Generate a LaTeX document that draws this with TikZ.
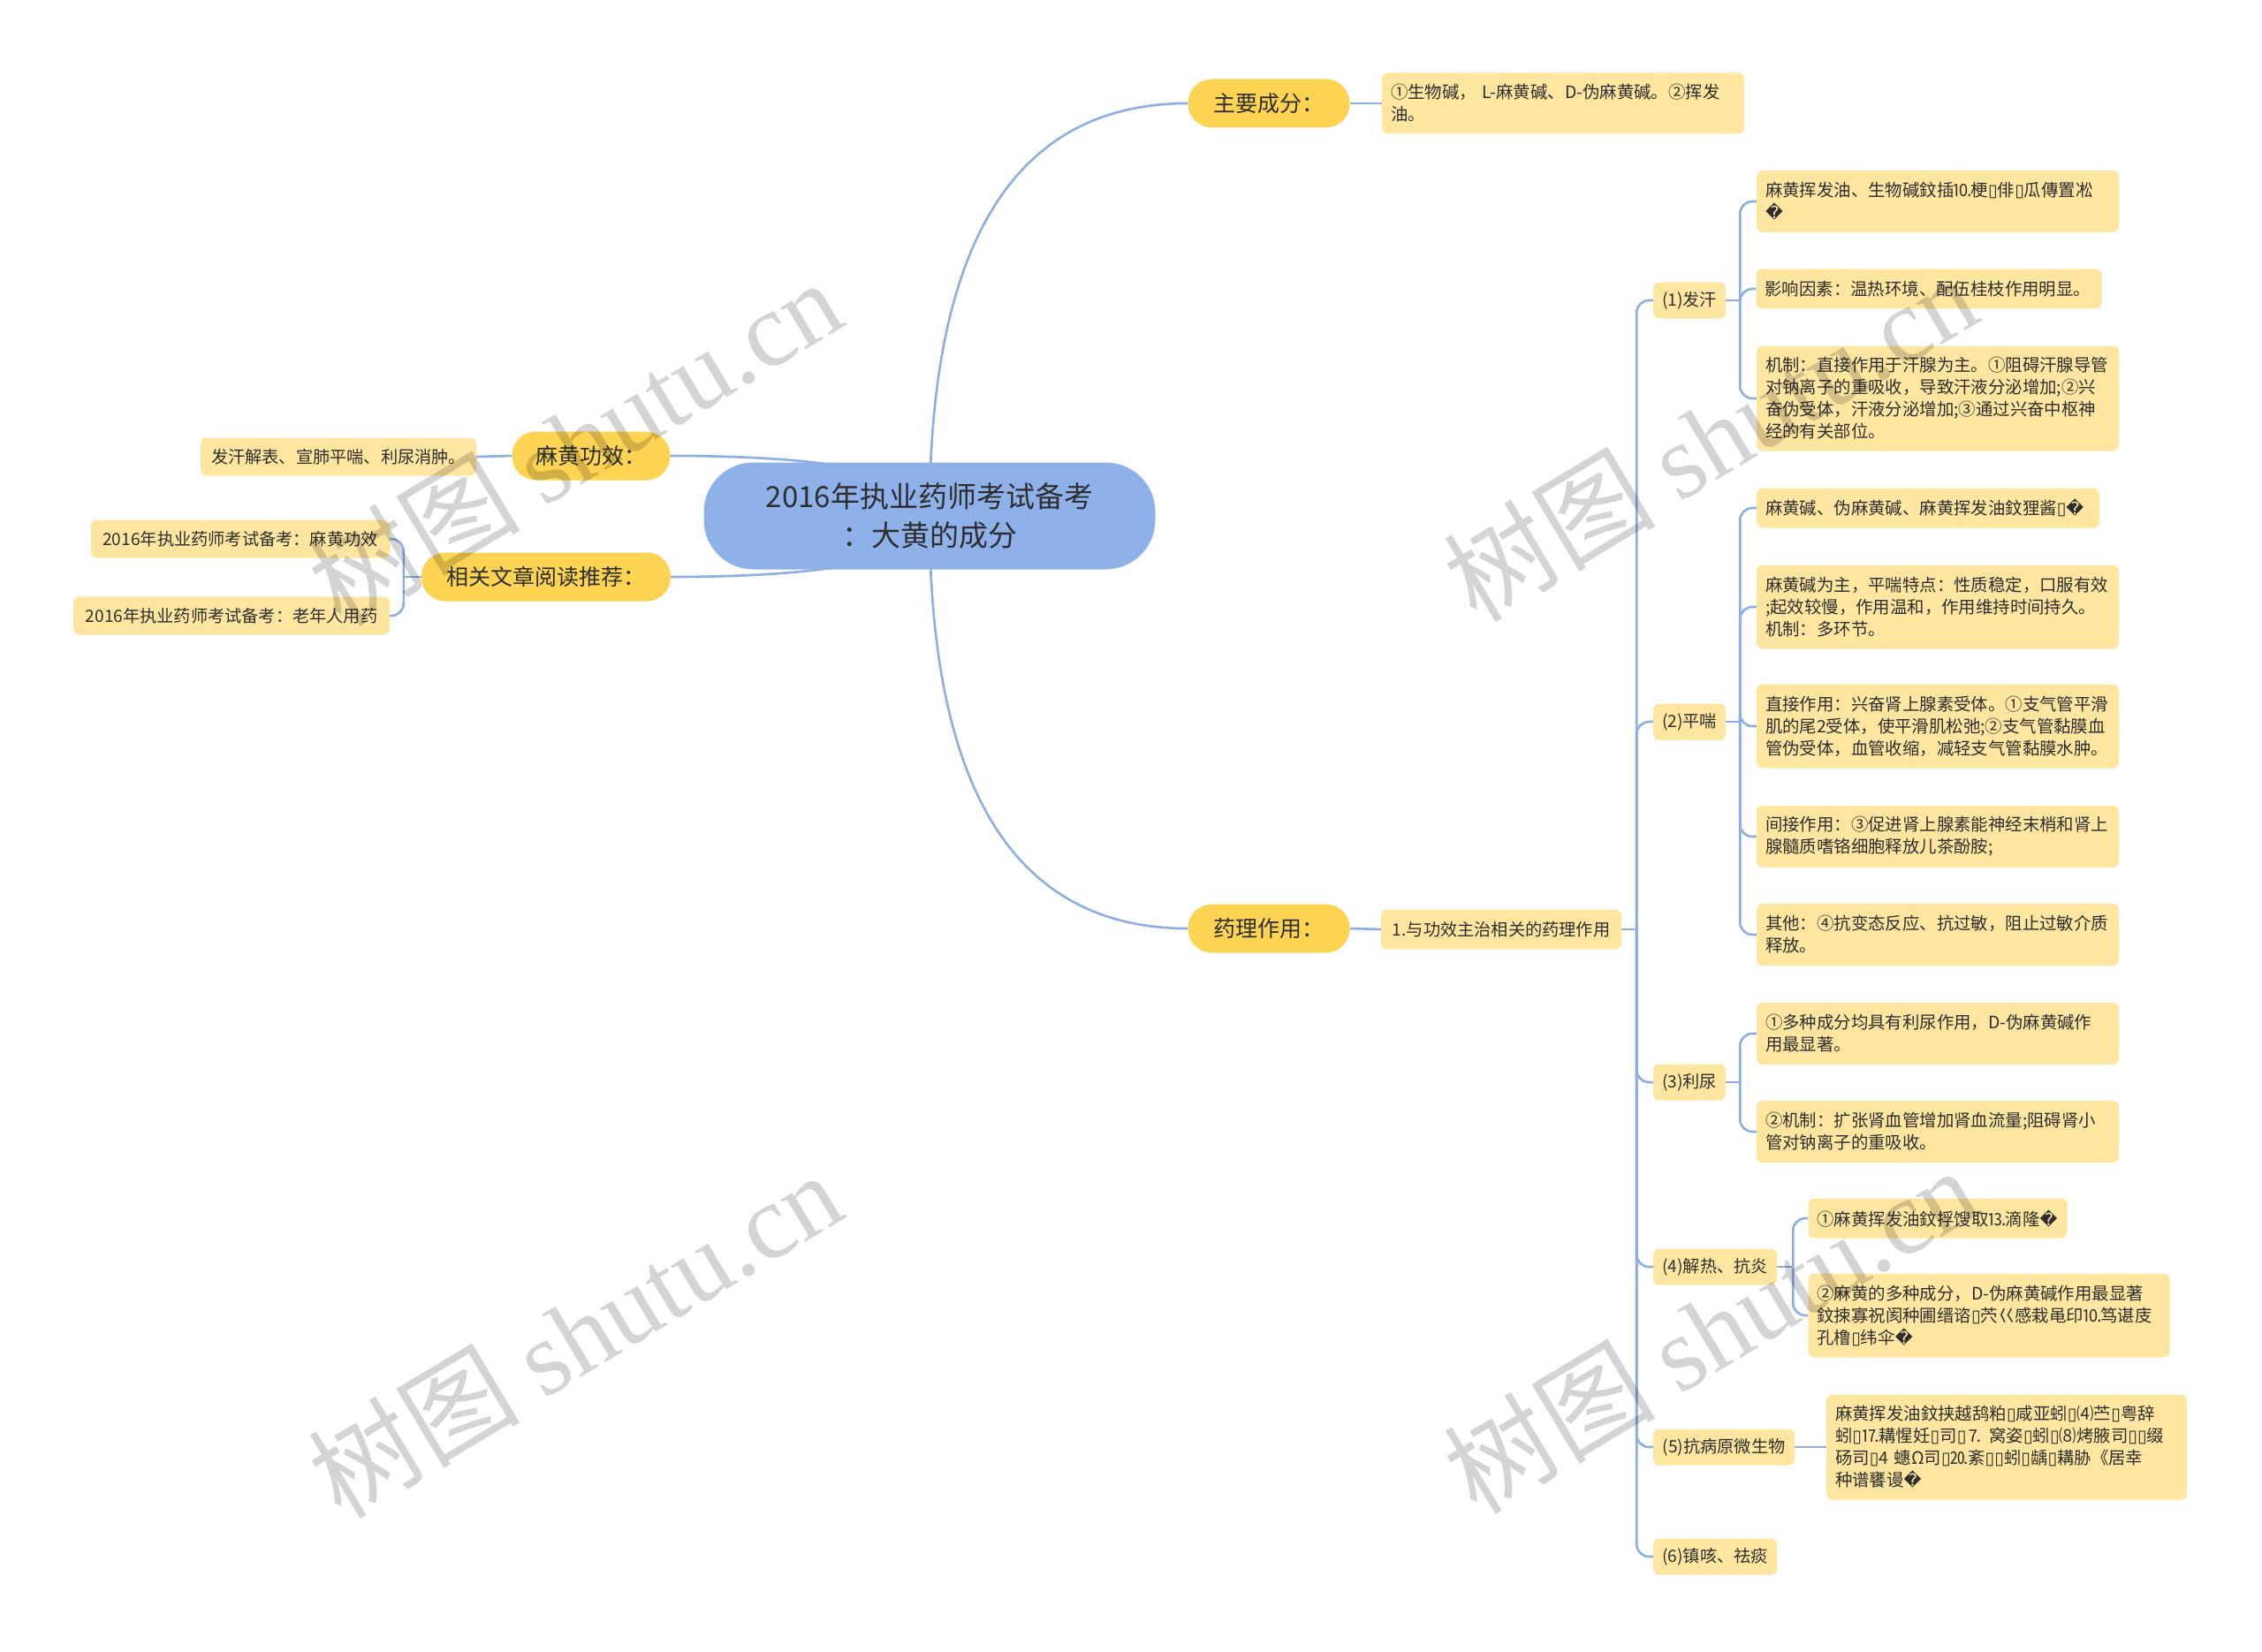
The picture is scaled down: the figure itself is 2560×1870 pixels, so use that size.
\documentclass[tikz,border=0pt]{standalone}
\usepackage{fontspec}
\setmainfont{Noto Sans CJK SC}
\newfontfamily\symfont{DejaVu Sans}
\newfontfamily\wmserif{Liberation Serif}
\newcommand\rpc{{\symfont\char"FFFD}}
\newcommand\bxc{{\symfont\char"25AF}}
\usetikzlibrary{calc,backgrounds}
\definecolor{cblue}{HTML}{8FB1EA}
\definecolor{lineblue}{HTML}{8DAEE3}
\definecolor{tgold}{HTML}{FDD352}
\definecolor{lyellow}{HTML}{FEE6A0}
\definecolor{txt}{HTML}{2E2E2E}
\tikzset{
  conn/.style={draw=lineblue, line width=2.6pt},
  brconn/.style={conn, rounded corners=14pt},
  centernode/.style={fill=cblue, rounded corners=56pt, minimum width=511pt, minimum height=121pt,
    align=center, text=txt, font=\fontsize{33}{44}\selectfont, inner sep=0pt},
  topic/.style={fill=tgold, rounded corners=27pt, minimum height=55pt, inner sep=0pt,
    text=txt, font=\fontsize{25}{30}\selectfont},
  leafbox/.style={fill=lyellow, rounded corners=7pt, text=txt, font=\fontsize{19.4}{25}\selectfont,
    inner xsep=10pt, inner ysep=0pt, align=left},
  subbox/.style={fill=lyellow, rounded corners=7pt, text=txt, font=\fontsize{19.2}{25}\selectfont,
    inner sep=0pt, minimum height=41pt, align=center},
  wm/.style={text=black, text opacity=0.17, rotate=31, inner sep=0pt,
    font=\fontsize{120}{120}\selectfont},
}
\begin{document}
\begin{tikzpicture}[x=1pt,y=-1pt]
\useasboundingbox (0,0) rectangle (2560,1870);

% central topic
\node[centernode] (c) at (1052,584) {2016年执业药师考试备考\\：大黄的成分};

% main topics
\node[topic, minimum width=183pt] (L1a) at (1436,117) {主要成分：};
\node[topic, minimum width=183pt] (L1b) at (1436,1051) {药理作用：};
\node[topic, minimum width=179pt] (L1c) at (669,516) {麻黄功效：};
\node[topic, minimum width=282pt] (L1d) at (618,653) {相关文章阅读推荐：};

% left leaves
\node[subbox, minimum width=312pt, minimum height=43pt] (LfA) at (383,517) {发汗解表、宣肺平喘、利尿消肿。};
\node[subbox, minimum width=338pt, minimum height=43pt] (LfB) at (272,610) {2016年执业药师考试备考：麻黄功效};
\node[subbox, minimum width=358pt, minimum height=43pt] (LfC) at (262,697) {2016年执业药师考试备考：老年人用药};

% components
\node[leafbox, text width=390pt, minimum height=69pt] (compA) at (1769,117) {①生物碱， L-麻黄碱、D-伪麻黄碱。②挥发\\油。};

% pharmacology
\node[subbox, minimum width=272pt, minimum height=45pt] (mid) at (1699,1052) {1.与功效主治相关的药理作用};

\node[subbox, minimum width=82pt] (m1) at (1912,340) {(1)发汗};
\node[subbox, minimum width=82pt] (m2) at (1912,817) {(2)平喘};
\node[subbox, minimum width=82pt] (m3) at (1912,1225) {(3)利尿};
\node[subbox, minimum width=140pt] (m4) at (1941,1434) {(4)解热、抗炎};
\node[subbox, minimum width=160pt] (m5) at (1951,1638) {(5)抗病原微生物};
\node[subbox, minimum width=140pt] (m6) at (1941,1762) {(6)镇咳、祛痰};

\node[leafbox, text width=390pt, minimum height=70pt] (s1a) at (2193,228) {麻黄挥发油、生物碱鈫插⒑梗\bxc{}俳\bxc{}瓜傳置凇\\\rpc};
\node[leafbox, text width=371pt, minimum height=45pt] (s1b) at (2183,327) {影响因素：温热环境、配伍桂枝作用明显。};
\node[leafbox, text width=390pt, minimum height=119pt] (s1c) at (2193,451) {机制：直接作用于汗腺为主。①阻碍汗腺导管\\对钠离子的重吸收，导致汗液分泌增加;②兴\\奋伪受体，汗液分泌增加;③通过兴奋中枢神\\经的有关部位。};

\node[leafbox, text width=368pt, minimum height=45pt] (s2a) at (2182,575) {麻黄碱、伪麻黄碱、麻黄挥发油鈫狸酱\bxc{}\rpc};
\node[leafbox, text width=390pt, minimum height=95pt] (s2b) at (2193,687) {麻黄碱为主，平喘特点：性质稳定，口服有效\\;起效较慢，作用温和，作用维持时间持久。\\机制：多环节。};
\node[leafbox, text width=390pt, minimum height=95pt] (s2c) at (2193,822) {直接作用：兴奋肾上腺素受体。①支气管平滑\\肌的尾2受体，使平滑肌松弛;②支气管黏膜血\\管伪受体，血管收缩，减轻支气管黏膜水肿。};
\node[leafbox, text width=390pt, minimum height=70pt] (s2d) at (2193,947) {间接作用：③促进肾上腺素能神经末梢和肾上\\腺髓质嗜铬细胞释放儿茶酚胺;};
\node[leafbox, text width=390pt, minimum height=70pt] (s2e) at (2193,1058) {其他：④抗变态反应、抗过敏，阻止过敏介质\\释放。};

\node[leafbox, text width=390pt, minimum height=70pt] (s3a) at (2193,1170) {①多种成分均具有利尿作用，D-伪麻黄碱作\\用最显著。};
\node[leafbox, text width=390pt, minimum height=70pt] (s3b) at (2193,1281) {②机制：扩张肾血管增加肾血流量;阻碍肾小\\管对钠离子的重吸收。};

\node[leafbox, text width=273pt, minimum height=45pt] (s4a) at (2193,1379) {①麻黄挥发油鈫捊馊取⒔滴隆\rpc};
\node[leafbox, text width=389pt, minimum height=95pt] (s4b) at (2251,1489) {②麻黄的多种成分，D-伪麻黄碱作用最显著\\鈫捒寡祝阂种圃缙谘\bxc{}茓巜感栽黾印⒑笃谌庋\\孔橹\bxc{}纬伞\rpc};

\node[leafbox, text width=388pt, minimum height=119pt] (s5a) at (2271,1638) {麻黄挥发油鈫挟越鸹粕\bxc{}咸亚蚓\bxc{}⑷苎\bxc{}粤辞\\蚓\bxc{}⒘耩惺妊\bxc{}司\bxc{}⒎ 窝姿\bxc{}蚓\bxc{}⑻烤腋司\bxc{}\bxc{}缀\\砀司\bxc{}4 蟪Ω司\bxc{}⒛紊\bxc{}\bxc{}蚓\bxc{}龋\bxc{}耩胁《居幸\\种谱饔谩\rpc};

% connectors
\begin{scope}[on background layer]
  \fill[white] (0,0) rectangle (2560,1870);
  \coordinate (kA) at (c.center |- L1a.west);
  \coordinate (kB) at (c.center |- L1b.west);
  \coordinate (kC) at (c.center |- L1c.east);
  \coordinate (kD) at (c.center |- L1d.east);
  \draw[conn] (c.center) .. controls ($(c.center)!2/3!(kA)$) and ($(L1a.west)!2/3!(kA)$) .. (L1a.west);
  \draw[conn] (c.center) .. controls ($(c.center)!2/3!(kB)$) and ($(L1b.west)!2/3!(kB)$) .. (L1b.west);
  \draw[conn] (c.center) .. controls ($(c.center)!2/3!(kC)$) and ($(L1c.east)!2/3!(kC)$) .. (L1c.east);
  \draw[conn] (c.center) .. controls ($(c.center)!2/3!(kD)$) and ($(L1d.east)!2/3!(kD)$) .. (L1d.east);

  \draw[conn] (L1a.east) -- (compA.west);
  \draw[conn] (L1b.east) -- (mid.west);
  \draw[conn] (L1c.west) -- (LfA.east);

  \coordinate (jl) at ($(L1d.west)+(-20,0)$);
  \draw[conn] (L1d.west) -- (jl);
  \draw[brconn] (jl) |- (LfB.east);
  \draw[brconn] (jl) |- (LfC.east);

  \coordinate (jm) at ($(mid.east)+(17,0)$);
  \draw[conn] (mid.east) -- (jm);
  \foreach \m in {m1,m2,m3,m4,m5,m6} { \draw[brconn] (jm) |- (\m.west); }

  \coordinate (j1) at ($(m1.east)+(16,0)$);
  \draw[conn] (m1.east) -- (j1);
  \foreach \s in {s1a,s1b,s1c} { \draw[brconn] (j1) |- (\s.west); }

  \coordinate (j2) at ($(m2.east)+(16,0)$);
  \draw[conn] (m2.east) -- (j2);
  \foreach \s in {s2a,s2b,s2c,s2d,s2e} { \draw[brconn] (j2) |- (\s.west); }

  \coordinate (j3) at ($(m3.east)+(16,0)$);
  \draw[conn] (m3.east) -- (j3);
  \foreach \s in {s3a,s3b} { \draw[brconn] (j3) |- (\s.west); }

  \coordinate (j4) at ($(m4.east)+(18,0)$);
  \draw[conn] (m4.east) -- (j4);
  \foreach \s in {s4a,s4b} { \draw[brconn] (j4) |- (\s.west); }

  \draw[conn] (m5.east) -- (s5a.west);
\end{scope}

% watermarks
\node[wm] (w1) at (650,500) {树图 {\wmserif shutu.cn}};
\node[wm] (w2) at (1935,495) {树图 {\wmserif shutu.cn}};
\node[wm] (w3) at (650,1510) {树图 {\wmserif shutu.cn}};
\node[wm] (w4) at (1935,1505) {树图 {\wmserif shutu.cn}};
\end{tikzpicture}
\end{document}
